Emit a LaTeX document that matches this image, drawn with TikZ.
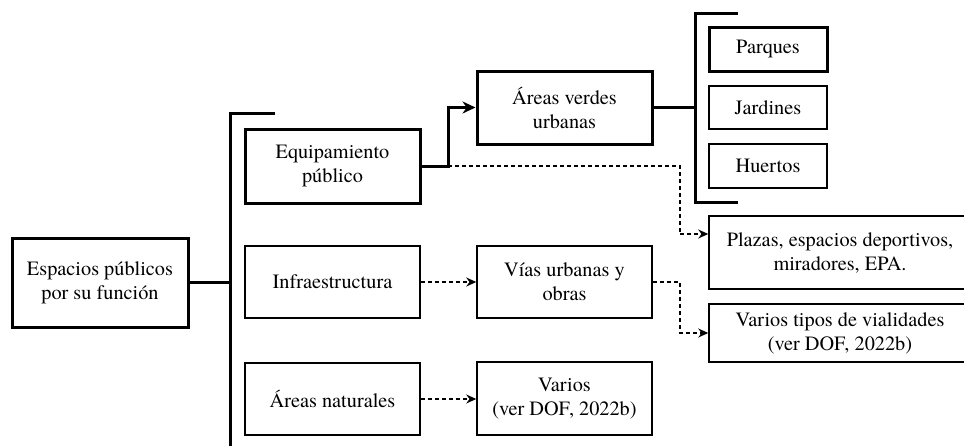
\documentclass[tikz,border=0pt]{standalone}
\usepackage{fontspec}
\setmainfont{texgyretermes}[Extension=.otf, UprightFont=*-regular, BoldFont=*-bold]
\usetikzlibrary{arrows.meta}
\begin{document}
\begin{tikzpicture}[x=1pt,y=-1pt,
  box/.style={draw, line width=1.5pt, align=center, inner sep=0pt,
    font=\fontsize{20.3}{24}\selectfont},
  heavy/.style={line width=3pt},
  bracket/.style={line width=3pt},
  link/.style={line width=2.6pt},
  solidarrow/.style={line width=3pt, -{Stealth[length=13pt,width=12pt]}},
  dasharrow/.style={line width=1.2pt, dash pattern=on 4pt off 3pt,
    -{Stealth[length=10pt,width=9pt]}},
  dashline/.style={line width=1.2pt, dash pattern=on 4pt off 3pt}]
\useasboundingbox (0,0) rectangle (964,445);
\fill[white] (0,0) rectangle (964,445);

% first level
\node[box, heavy, minimum width=176pt, minimum height=89pt] (esp) at (100,282.5)
  {Espacios públicos\\por su función};

% second level
\node[box, heavy, minimum width=175pt, minimum height=74pt] (equip) at (332.5,166)
  {Equipamiento\\público};
\node[box, minimum width=175pt, minimum height=72pt] (infra) at (332.5,282)
  {Infraestructura};
\node[box, minimum width=175pt, minimum height=72pt] (nat) at (332.5,399)
  {Áreas naturales};

% third level
\node[box, heavy, minimum width=175pt, minimum height=73pt] (areas) at (564.5,107.5)
  {Áreas verdes\\urbanas};
\node[box, minimum width=175pt, minimum height=72pt] (vias) at (564.5,282)
  {Vías urbanas y\\obras};
\node[box, minimum width=175pt, minimum height=73pt] (varios) at (564.5,398.5)
  {Varios\\(ver DOF, 2022b)};

% fourth level
\node[box, heavy, minimum width=118pt, minimum height=44pt] (parques) at (768,49)
  {Parques};
\node[box, minimum width=118pt, minimum height=43pt] (jardines) at (768,107.5)
  {Jardines};
\node[box, minimum width=118pt, minimum height=44pt] (huertos) at (768,166)
  {Huertos};
\node[box, minimum width=262pt, minimum height=73pt] (plazas) at (840,252.5)
  {Plazas, espacios deportivos,\\miradores, EPA.};
\node[box, minimum width=262pt, minimum height=58pt] (tipos) at (840,333)
  {Varios tipos de vialidades\\(ver DOF, 2022b)};

% brackets
\coordinate (b1) at (230,282.5);
\draw[bracket] (275,113) -- (230,113) -- (230,450);
\coordinate (b2) at (695,107.5);
\draw[bracket] (738,13) -- (695,13) -- (695,202) -- (738,202);

% connectors
\draw[link] (esp.east) -- (b1);
\draw[link] (areas.east) -- (b2);
\coordinate (split) at (448,166);
\draw[solidarrow] (equip.east) -- (split) |- (areas.west);
\coordinate (d1) at (680,234);
\draw[dashline] (split) -- (680,166) -- (d1);
\draw[dasharrow] (d1) -- (d1 -| plazas.west);
\draw[dasharrow] (vias.east) -- (680,282) |- (tipos.west);
\draw[dasharrow] (infra.east) -- (vias.west);
\draw[dasharrow] (nat.east) -- (nat.east -| varios.west);
\end{tikzpicture}
\end{document}
